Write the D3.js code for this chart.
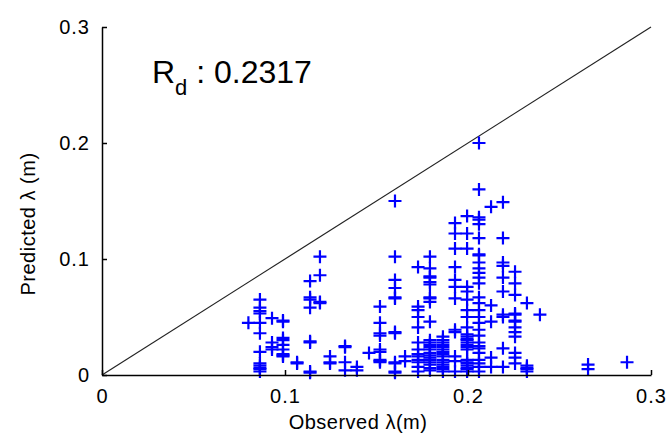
<!DOCTYPE html>
<html>
<head>
<meta charset="utf-8">
<script src="https://cdn.jsdelivr.net/npm/d3@7"></script>
<style>
  body { margin: 0; background: #fff; }
  svg text { font-family: "Liberation Sans", Arial, sans-serif; fill: #000; }
</style>
</head>
<body>
<svg id="chart" width="667" height="439"></svg>
<script>
const observedCols = [0.080, 0.0863, 0.0929, 0.0989, 0.1066, 0.1137, 0.1191, 0.1246, 0.1328, 0.1393,
  0.1459, 0.1519, 0.1601, 0.1656, 0.1727, 0.1792, 0.1863, 0.1929, 0.1995, 0.2060,
  0.2126, 0.2191, 0.2257, 0.2322, 0.2393, 0.2656, 0.2869];

const predictedCols = [
  [0.045],
  [0.065, 0.058, 0.055, 0.053, 0.045, 0.036, 0.020, 0.010, 0.008, 0.006, 0.005, 0.003],
  [0.049, 0.028, 0.024, 0.022],
  [0.047, 0.046, 0.032, 0.030, 0.026, 0.022, 0.018, 0.017, 0.016],
  [0.011, 0.010],
  [0.081, 0.067, 0.065, 0.058, 0.029, 0.028, 0.003, 0.002],
  [0.102, 0.086, 0.063, 0.062],
  [0.016, 0.011, 0.010],
  [0.025, 0.024, 0.011, 0.004],
  [0.007, 0.004],
  [0.019],
  [0.059, 0.045, 0.036, 0.034, 0.022, 0.020, 0.013, 0.012, 0.011],
  [0.150, 0.102, 0.082, 0.075, 0.067, 0.066, 0.037, 0.036, 0.011, 0.010, 0.003, 0.002],
  [0.016, 0.012],
  [0.093, 0.059, 0.056, 0.050, 0.041, 0.028, 0.022, 0.018, 0.016, 0.013, 0.011, 0.007, 0.003],
  [0.102, 0.092, 0.085, 0.084, 0.080, 0.078, 0.067, 0.066, 0.063, 0.046, 0.030, 0.028, 0.026, 0.024, 0.022, 0.019, 0.017, 0.015, 0.013, 0.011, 0.009, 0.006, 0.004],
  [0.033, 0.030, 0.028, 0.026, 0.024, 0.022, 0.020, 0.018, 0.016, 0.013, 0.011, 0.009, 0.007, 0.005, 0.003],
  [0.131, 0.122, 0.109, 0.093, 0.082, 0.076, 0.066, 0.039, 0.037, 0.016, 0.012, 0.003],
  [0.137, 0.122, 0.109, 0.076, 0.072, 0.065, 0.056, 0.050, 0.041, 0.035, 0.033, 0.031, 0.030, 0.028, 0.026, 0.024, 0.022, 0.013, 0.011, 0.010, 0.008, 0.006, 0.005, 0.003],
  [0.200, 0.160, 0.136, 0.134, 0.130, 0.118, 0.104, 0.103, 0.097, 0.092, 0.088, 0.084, 0.079, 0.067, 0.062, 0.056, 0.050, 0.045, 0.039, 0.034, 0.028, 0.025, 0.023, 0.019, 0.013, 0.010, 0.007, 0.003],
  [0.145, 0.060, 0.046, 0.015, 0.007],
  [0.149, 0.118, 0.097, 0.094, 0.084, 0.072, 0.052, 0.050, 0.023, 0.007],
  [0.089, 0.079, 0.069, 0.053, 0.052, 0.047, 0.046, 0.041, 0.037, 0.033, 0.019, 0.015, 0.010],
  [0.062, 0.008, 0.006, 0.005, 0.003],
  [0.052],
  [0.009, 0.005],
  [0.011]
];

const tickValues = [0, 0.1, 0.2, 0.3];
const tickLabels = ["0", "0.1", "0.2", "0.3"];
const rdLabel = "0.2317";

const svg = d3.select('#chart');
const x = d3.scaleLinear().domain([0, 0.3]).range([102, 651]);
const y = d3.scaleLinear().domain([0, 0.3]).range([375, 27]);

let points = [];
observedCols.forEach((o, i) => predictedCols[i].forEach(p => points.push([o, p])));

// 1:1 line
svg.append('line')
  .attr('x1', x(0)).attr('y1', y(0))
  .attr('x2', x(0.3)).attr('y2', y(0.3))
  .attr('stroke', '#222').attr('stroke-width', 1.2);

// markers
svg.append('g').selectAll('path').data(points).join('path')
  .attr('transform', d => `translate(${x(d[0])},${y(d[1])})`)
  .attr('d', 'M-6.5,0H6.5M0,-6.5V6.5')
  .attr('stroke', '#0000ff').attr('stroke-width', 2.2).attr('fill', 'none');

// axes, ticks inward
const fmt = (d, i) => tickLabels[i];
const gx = svg.append('g').attr('transform', `translate(0,${y(0)})`)
  .call(d3.axisBottom(x).tickValues(tickValues).tickFormat(fmt).tickSizeInner(-5).tickSizeOuter(0).tickPadding(14));
const gy = svg.append('g').attr('transform', `translate(${x(0)},0)`)
  .call(d3.axisLeft(y).tickValues(tickValues).tickFormat(fmt).tickSizeInner(-5).tickSizeOuter(0).tickPadding(12));
[gx, gy].forEach(g => {
  g.select('.domain').attr('stroke', '#000').attr('stroke-width', 1.5);
  g.selectAll('.tick line').attr('stroke', '#000').attr('stroke-width', 1.5);
  g.selectAll('.tick text').attr('font-size', 20).attr('font-family', '"Liberation Sans", Arial, sans-serif')
    .attr('letter-spacing', 1).attr('fill', '#000');
});

// axis labels
svg.append('text').attr('x', 358).attr('y', 429).attr('text-anchor', 'middle')
  .attr('font-size', 20).attr('letter-spacing', 0.5).text('Observed λ(m)');
svg.append('text').attr('transform', 'translate(35,224) rotate(-90)').attr('text-anchor', 'middle')
  .attr('font-size', 20).attr('letter-spacing', 0.5).text('Predicted λ (m)');

// R_d annotation
const rd = svg.append('text').attr('x', 152).attr('y', 83).attr('font-size', 32);
rd.append('tspan').text('R');
rd.append('tspan').attr('font-size', 22).attr('dy', 12).text('d');
rd.append('tspan').attr('dy', -12).text(' : ' + rdLabel);
</script>
</body>
</html>
